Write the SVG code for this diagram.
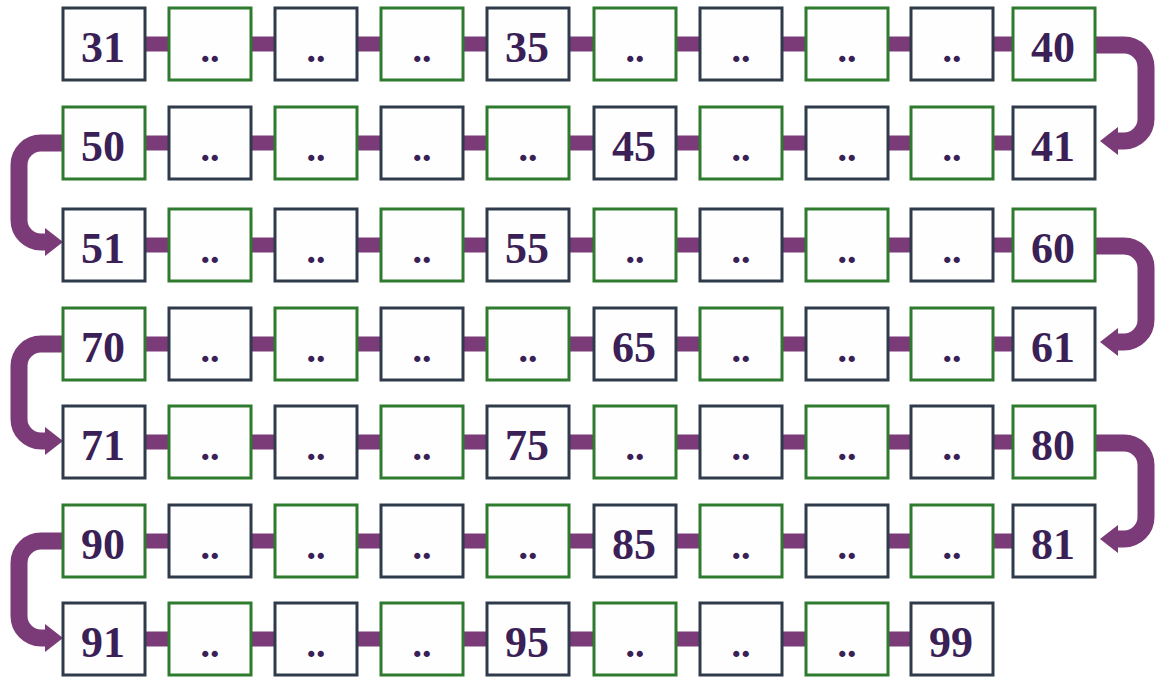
<svg xmlns="http://www.w3.org/2000/svg" width="1156" height="677" viewBox="0 0 1156 677">
<style>
.b{stroke-width:3;fill:#fdfefd}
.d{stroke:#2f3b4b}
.g{stroke:#2e7a2e}
.t{font-family:"Liberation Serif","Times New Roman",serif;font-weight:bold;font-size:44px;fill:#3b1f57;text-anchor:middle}
.t.e{font-size:38px}
.h{stroke:#7b3a78;stroke-width:15}
.c{stroke:#7b3a78;stroke-width:17;fill:none}
.a{fill:#7b3a78}
</style>
<rect width="1156" height="677" fill="#ffffff"/>
<g id="connectors">
<g id="row-links">
<path class="h" d="M145,44H169M251,44H275M357,44H381M463,44H487M569,44H594M676,44H700M782,44H806M888,44H911M993,44H1013"/>
<path class="h" d="M145,143H169M251,143H275M357,143H381M463,143H487M569,143H594M676,143H700M782,143H806M888,143H911M993,143H1013"/>
<path class="h" d="M145,245H169M251,245H275M357,245H381M463,245H487M569,245H594M676,245H700M782,245H806M888,245H911M993,245H1013"/>
<path class="h" d="M145,344H169M251,344H275M357,344H381M463,344H487M569,344H594M676,344H700M782,344H806M888,344H911M993,344H1013"/>
<path class="h" d="M145,442H169M251,442H275M357,442H381M463,442H487M569,442H594M676,442H700M782,442H806M888,442H911M993,442H1013"/>
<path class="h" d="M145,541H169M251,541H275M357,541H381M463,541H487M569,541H594M676,541H700M782,541H806M888,541H911M993,541H1013"/>
<path class="h" d="M145,639H169M251,639H275M357,639H381M463,639H487M569,639H594M676,639H700M782,639H806M888,639H911"/>
</g>
<g id="turns">
<path class="c" d="M1095,45H1124A22,22 0 0 1 1146,67V119A22,22 0 0 1 1124,141H1114"/>
<polygon class="a" points="1100,141 1118,127 1118,155"/>
<path class="c" d="M1095,246H1124A22,22 0 0 1 1146,268V320A22,22 0 0 1 1124,342H1114"/>
<polygon class="a" points="1100,342 1118,328 1118,356"/>
<path class="c" d="M1095,443H1124A22,22 0 0 1 1146,465V517A22,22 0 0 1 1124,539H1114"/>
<polygon class="a" points="1100,539 1118,525 1118,553"/>
<path class="c" d="M64,143H41A22,22 0 0 0 19,165V220A22,22 0 0 0 41,242H48"/>
<polygon class="a" points="63,242 45,228 45,256"/>
<path class="c" d="M64,344H41A22,22 0 0 0 19,366V419A22,22 0 0 0 41,441H48"/>
<polygon class="a" points="63,441 45,427 45,455"/>
<path class="c" d="M64,541H41A22,22 0 0 0 19,563V616A22,22 0 0 0 41,638H48"/>
<polygon class="a" points="63,638 45,624 45,652"/>
</g>
</g>
<g id="r0">
<g id="n31"><rect class="b d" x="63" y="8" width="82" height="72"/><text class="t" x="103" y="62">31</text></g>
<g id="n32"><rect class="b g" x="169" y="8" width="82" height="72"/><text class="t e" x="210" y="62">..</text></g>
<g id="n33"><rect class="b d" x="275" y="8" width="82" height="72"/><text class="t e" x="316" y="62">..</text></g>
<g id="n34"><rect class="b g" x="381" y="8" width="82" height="72"/><text class="t e" x="422" y="62">..</text></g>
<g id="n35"><rect class="b d" x="487" y="8" width="82" height="72"/><text class="t" x="527" y="62">35</text></g>
<g id="n36"><rect class="b g" x="594" y="8" width="82" height="72"/><text class="t e" x="635" y="62">..</text></g>
<g id="n37"><rect class="b d" x="700" y="8" width="82" height="72"/><text class="t e" x="741" y="62">..</text></g>
<g id="n38"><rect class="b g" x="806" y="8" width="82" height="72"/><text class="t e" x="847" y="62">..</text></g>
<g id="n39"><rect class="b d" x="911" y="8" width="82" height="72"/><text class="t e" x="952" y="62">..</text></g>
<g id="n40"><rect class="b g" x="1013" y="8" width="82" height="72"/><text class="t" x="1053" y="62">40</text></g>
</g>
<g id="r1">
<g id="n50"><rect class="b g" x="63" y="107" width="82" height="72"/><text class="t" x="103" y="161">50</text></g>
<g id="n49"><rect class="b d" x="169" y="107" width="82" height="72"/><text class="t e" x="210" y="161">..</text></g>
<g id="n48"><rect class="b g" x="275" y="107" width="82" height="72"/><text class="t e" x="316" y="161">..</text></g>
<g id="n47"><rect class="b d" x="381" y="107" width="82" height="72"/><text class="t e" x="422" y="161">..</text></g>
<g id="n46"><rect class="b g" x="487" y="107" width="82" height="72"/><text class="t e" x="528" y="161">..</text></g>
<g id="n45"><rect class="b d" x="594" y="107" width="82" height="72"/><text class="t" x="634" y="161">45</text></g>
<g id="n44"><rect class="b g" x="700" y="107" width="82" height="72"/><text class="t e" x="741" y="161">..</text></g>
<g id="n43"><rect class="b d" x="806" y="107" width="82" height="72"/><text class="t e" x="847" y="161">..</text></g>
<g id="n42"><rect class="b g" x="911" y="107" width="82" height="72"/><text class="t e" x="952" y="161">..</text></g>
<g id="n41"><rect class="b d" x="1013" y="107" width="82" height="72"/><text class="t" x="1053" y="161">41</text></g>
</g>
<g id="r2">
<g id="n51"><rect class="b d" x="63" y="209" width="82" height="72"/><text class="t" x="103" y="263">51</text></g>
<g id="n52"><rect class="b g" x="169" y="209" width="82" height="72"/><text class="t e" x="210" y="263">..</text></g>
<g id="n53"><rect class="b d" x="275" y="209" width="82" height="72"/><text class="t e" x="316" y="263">..</text></g>
<g id="n54"><rect class="b g" x="381" y="209" width="82" height="72"/><text class="t e" x="422" y="263">..</text></g>
<g id="n55"><rect class="b d" x="487" y="209" width="82" height="72"/><text class="t" x="527" y="263">55</text></g>
<g id="n56"><rect class="b g" x="594" y="209" width="82" height="72"/><text class="t e" x="635" y="263">..</text></g>
<g id="n57"><rect class="b d" x="700" y="209" width="82" height="72"/><text class="t e" x="741" y="263">..</text></g>
<g id="n58"><rect class="b g" x="806" y="209" width="82" height="72"/><text class="t e" x="847" y="263">..</text></g>
<g id="n59"><rect class="b d" x="911" y="209" width="82" height="72"/><text class="t e" x="952" y="263">..</text></g>
<g id="n60"><rect class="b g" x="1013" y="209" width="82" height="72"/><text class="t" x="1053" y="263">60</text></g>
</g>
<g id="r3">
<g id="n70"><rect class="b g" x="63" y="308" width="82" height="72"/><text class="t" x="103" y="362">70</text></g>
<g id="n69"><rect class="b d" x="169" y="308" width="82" height="72"/><text class="t e" x="210" y="362">..</text></g>
<g id="n68"><rect class="b g" x="275" y="308" width="82" height="72"/><text class="t e" x="316" y="362">..</text></g>
<g id="n67"><rect class="b d" x="381" y="308" width="82" height="72"/><text class="t e" x="422" y="362">..</text></g>
<g id="n66"><rect class="b g" x="487" y="308" width="82" height="72"/><text class="t e" x="528" y="362">..</text></g>
<g id="n65"><rect class="b d" x="594" y="308" width="82" height="72"/><text class="t" x="634" y="362">65</text></g>
<g id="n64"><rect class="b g" x="700" y="308" width="82" height="72"/><text class="t e" x="741" y="362">..</text></g>
<g id="n63"><rect class="b d" x="806" y="308" width="82" height="72"/><text class="t e" x="847" y="362">..</text></g>
<g id="n62"><rect class="b g" x="911" y="308" width="82" height="72"/><text class="t e" x="952" y="362">..</text></g>
<g id="n61"><rect class="b d" x="1013" y="308" width="82" height="72"/><text class="t" x="1053" y="362">61</text></g>
</g>
<g id="r4">
<g id="n71"><rect class="b d" x="63" y="406" width="82" height="72"/><text class="t" x="103" y="460">71</text></g>
<g id="n72"><rect class="b g" x="169" y="406" width="82" height="72"/><text class="t e" x="210" y="460">..</text></g>
<g id="n73"><rect class="b d" x="275" y="406" width="82" height="72"/><text class="t e" x="316" y="460">..</text></g>
<g id="n74"><rect class="b g" x="381" y="406" width="82" height="72"/><text class="t e" x="422" y="460">..</text></g>
<g id="n75"><rect class="b d" x="487" y="406" width="82" height="72"/><text class="t" x="527" y="460">75</text></g>
<g id="n76"><rect class="b g" x="594" y="406" width="82" height="72"/><text class="t e" x="635" y="460">..</text></g>
<g id="n77"><rect class="b d" x="700" y="406" width="82" height="72"/><text class="t e" x="741" y="460">..</text></g>
<g id="n78"><rect class="b g" x="806" y="406" width="82" height="72"/><text class="t e" x="847" y="460">..</text></g>
<g id="n79"><rect class="b d" x="911" y="406" width="82" height="72"/><text class="t e" x="952" y="460">..</text></g>
<g id="n80"><rect class="b g" x="1013" y="406" width="82" height="72"/><text class="t" x="1053" y="460">80</text></g>
</g>
<g id="r5">
<g id="n90"><rect class="b g" x="63" y="505" width="82" height="72"/><text class="t" x="103" y="559">90</text></g>
<g id="n89"><rect class="b d" x="169" y="505" width="82" height="72"/><text class="t e" x="210" y="559">..</text></g>
<g id="n88"><rect class="b g" x="275" y="505" width="82" height="72"/><text class="t e" x="316" y="559">..</text></g>
<g id="n87"><rect class="b d" x="381" y="505" width="82" height="72"/><text class="t e" x="422" y="559">..</text></g>
<g id="n86"><rect class="b g" x="487" y="505" width="82" height="72"/><text class="t e" x="528" y="559">..</text></g>
<g id="n85"><rect class="b d" x="594" y="505" width="82" height="72"/><text class="t" x="634" y="559">85</text></g>
<g id="n84"><rect class="b g" x="700" y="505" width="82" height="72"/><text class="t e" x="741" y="559">..</text></g>
<g id="n83"><rect class="b d" x="806" y="505" width="82" height="72"/><text class="t e" x="847" y="559">..</text></g>
<g id="n82"><rect class="b g" x="911" y="505" width="82" height="72"/><text class="t e" x="952" y="559">..</text></g>
<g id="n81"><rect class="b d" x="1013" y="505" width="82" height="72"/><text class="t" x="1053" y="559">81</text></g>
</g>
<g id="r6">
<g id="n91"><rect class="b d" x="63" y="603" width="82" height="72"/><text class="t" x="103" y="657">91</text></g>
<g id="n92"><rect class="b g" x="169" y="603" width="82" height="72"/><text class="t e" x="210" y="657">..</text></g>
<g id="n93"><rect class="b d" x="275" y="603" width="82" height="72"/><text class="t e" x="316" y="657">..</text></g>
<g id="n94"><rect class="b g" x="381" y="603" width="82" height="72"/><text class="t e" x="422" y="657">..</text></g>
<g id="n95"><rect class="b d" x="487" y="603" width="82" height="72"/><text class="t" x="527" y="657">95</text></g>
<g id="n96"><rect class="b g" x="594" y="603" width="82" height="72"/><text class="t e" x="635" y="657">..</text></g>
<g id="n97"><rect class="b d" x="700" y="603" width="82" height="72"/><text class="t e" x="741" y="657">..</text></g>
<g id="n98"><rect class="b g" x="806" y="603" width="82" height="72"/><text class="t e" x="847" y="657">..</text></g>
<g id="n99"><rect class="b d" x="911" y="603" width="82" height="72"/><text class="t" x="951" y="657">99</text></g>
</g>
</svg>
